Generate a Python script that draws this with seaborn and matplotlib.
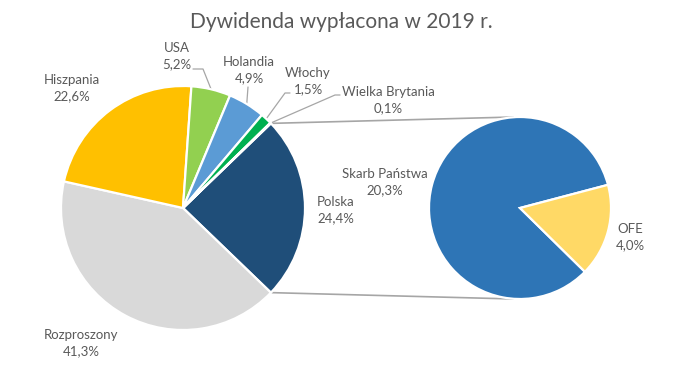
import matplotlib
matplotlib.use("Agg")
import matplotlib.pyplot as plt
import numpy as np
import seaborn as sns

sns.set_theme(style="white")
plt.rcParams["font.family"] = ["Lato", "DejaVu Sans"]

# main pie (Polska is split into the secondary pie)
main_labels = ["Polska", "Rozproszony", "Hiszpania", "USA", "Holandia",
               "Włochy", "Wielka Brytania"]
main_values = [24.4, 41.3, 22.6, 5.2, 4.9, 1.5, 0.1]
main_colors = ["#1F4E79", "#D9D9D9", "#FFC000", "#92D050", "#5B9BD5",
               "#00B050", "#4472C4"]

sub_labels = ["Skarb Państwa", "OFE"]
sub_values = [20.3, 4.0]
sub_colors = ["#2E75B6", "#FFD966"]

TXT = "#595959"
LINE = "#A6A6A6"
W, H = 683, 379

fig = plt.figure(figsize=(6.83, 3.79), dpi=100)
ax = fig.add_axes([0, 0, 1, 1])

c1, r1 = (183, H - 208), 122
c2, r2 = (520, H - 208), 91

start1 = main_values[0] * 3.6 / 2
wp = dict(edgecolor="white", linewidth=1.6)
ax.pie(main_values, colors=main_colors, startangle=start1, counterclock=False,
       center=c1, radius=r1, wedgeprops=wp, frame=True)
start2 = -44.5
ax.pie(sub_values, colors=sub_colors, startangle=start2, counterclock=False,
       center=c2, radius=r2, wedgeprops=wp, frame=True)
ax.set_xlim(0, W)
ax.set_ylim(0, H)
ax.set_aspect("equal")
ax.axis("off")

# connector lines from split slice to secondary pie
for ang, sgn in [(start1, 1), (-start1, -1)]:
    p = (c1[0] + r1 * np.cos(np.radians(ang)), c1[1] + r1 * np.sin(np.radians(ang)))
    ax.plot([p[0], c2[0] - 6], [p[1], c2[1] + sgn * r2], color=LINE, lw=1.2,
            solid_capstyle="butt", zorder=0)

# mid angles of main wedges
edges = start1 - np.cumsum([0] + main_values) * 3.6
mids = (edges[:-1] + edges[1:]) / 2

# label layout: text centre (px) and optional leader knee points
label_pos = {
    "Polska": (336, 210),
    "Rozproszony": (81, 343),
    "Hiszpania": (72, 88),
    "USA": (177, 56),
    "Holandia": (249, 70),
    "Włochy": (308, 81),
    "Wielka Brytania": (388, 100),
}
leaders = {
    "USA": [(203, 69), (193, 69)],
    "Holandia": [(248, 87)],
    "Włochy": [(285, 93), (290, 93)],
    "Wielka Brytania": [(335, 95), (340, 95)],
}

for i, (lab, val) in enumerate(zip(main_labels, main_values)):
    x, y = label_pos[lab]
    ax.text(x, H - y, f"{lab}\n{val:.1f}%".replace(".", ","), ha="center",
            va="center", color=TXT, fontsize=9.5, linespacing=1.35)
    if lab in leaders:
        a = np.radians(mids[i])
        pts = [(c1[0] + r1 * np.cos(a), c1[1] + r1 * np.sin(a))]
        pts += [(px, H - py) for px, py in leaders[lab]]
        xs, ys = zip(*pts)
        ax.plot(xs, ys, color=LINE, lw=0.9, zorder=0)

sub_pos = {"Skarb Państwa": (385, 182), "OFE": (630, 237)}
for lab, val in zip(sub_labels, sub_values):
    x, y = sub_pos[lab]
    ax.text(x, H - y, f"{lab}\n{val:.1f}%".replace(".", ","), ha="center",
            va="center", color=TXT, fontsize=9.5, linespacing=1.35)

ax.text(W / 2, H - 22, "Dywidenda wypłacona w 2019 r.", ha="center",
        va="center", color=TXT, fontsize=15)

fig.savefig("out.png", dpi=100, facecolor="white")
